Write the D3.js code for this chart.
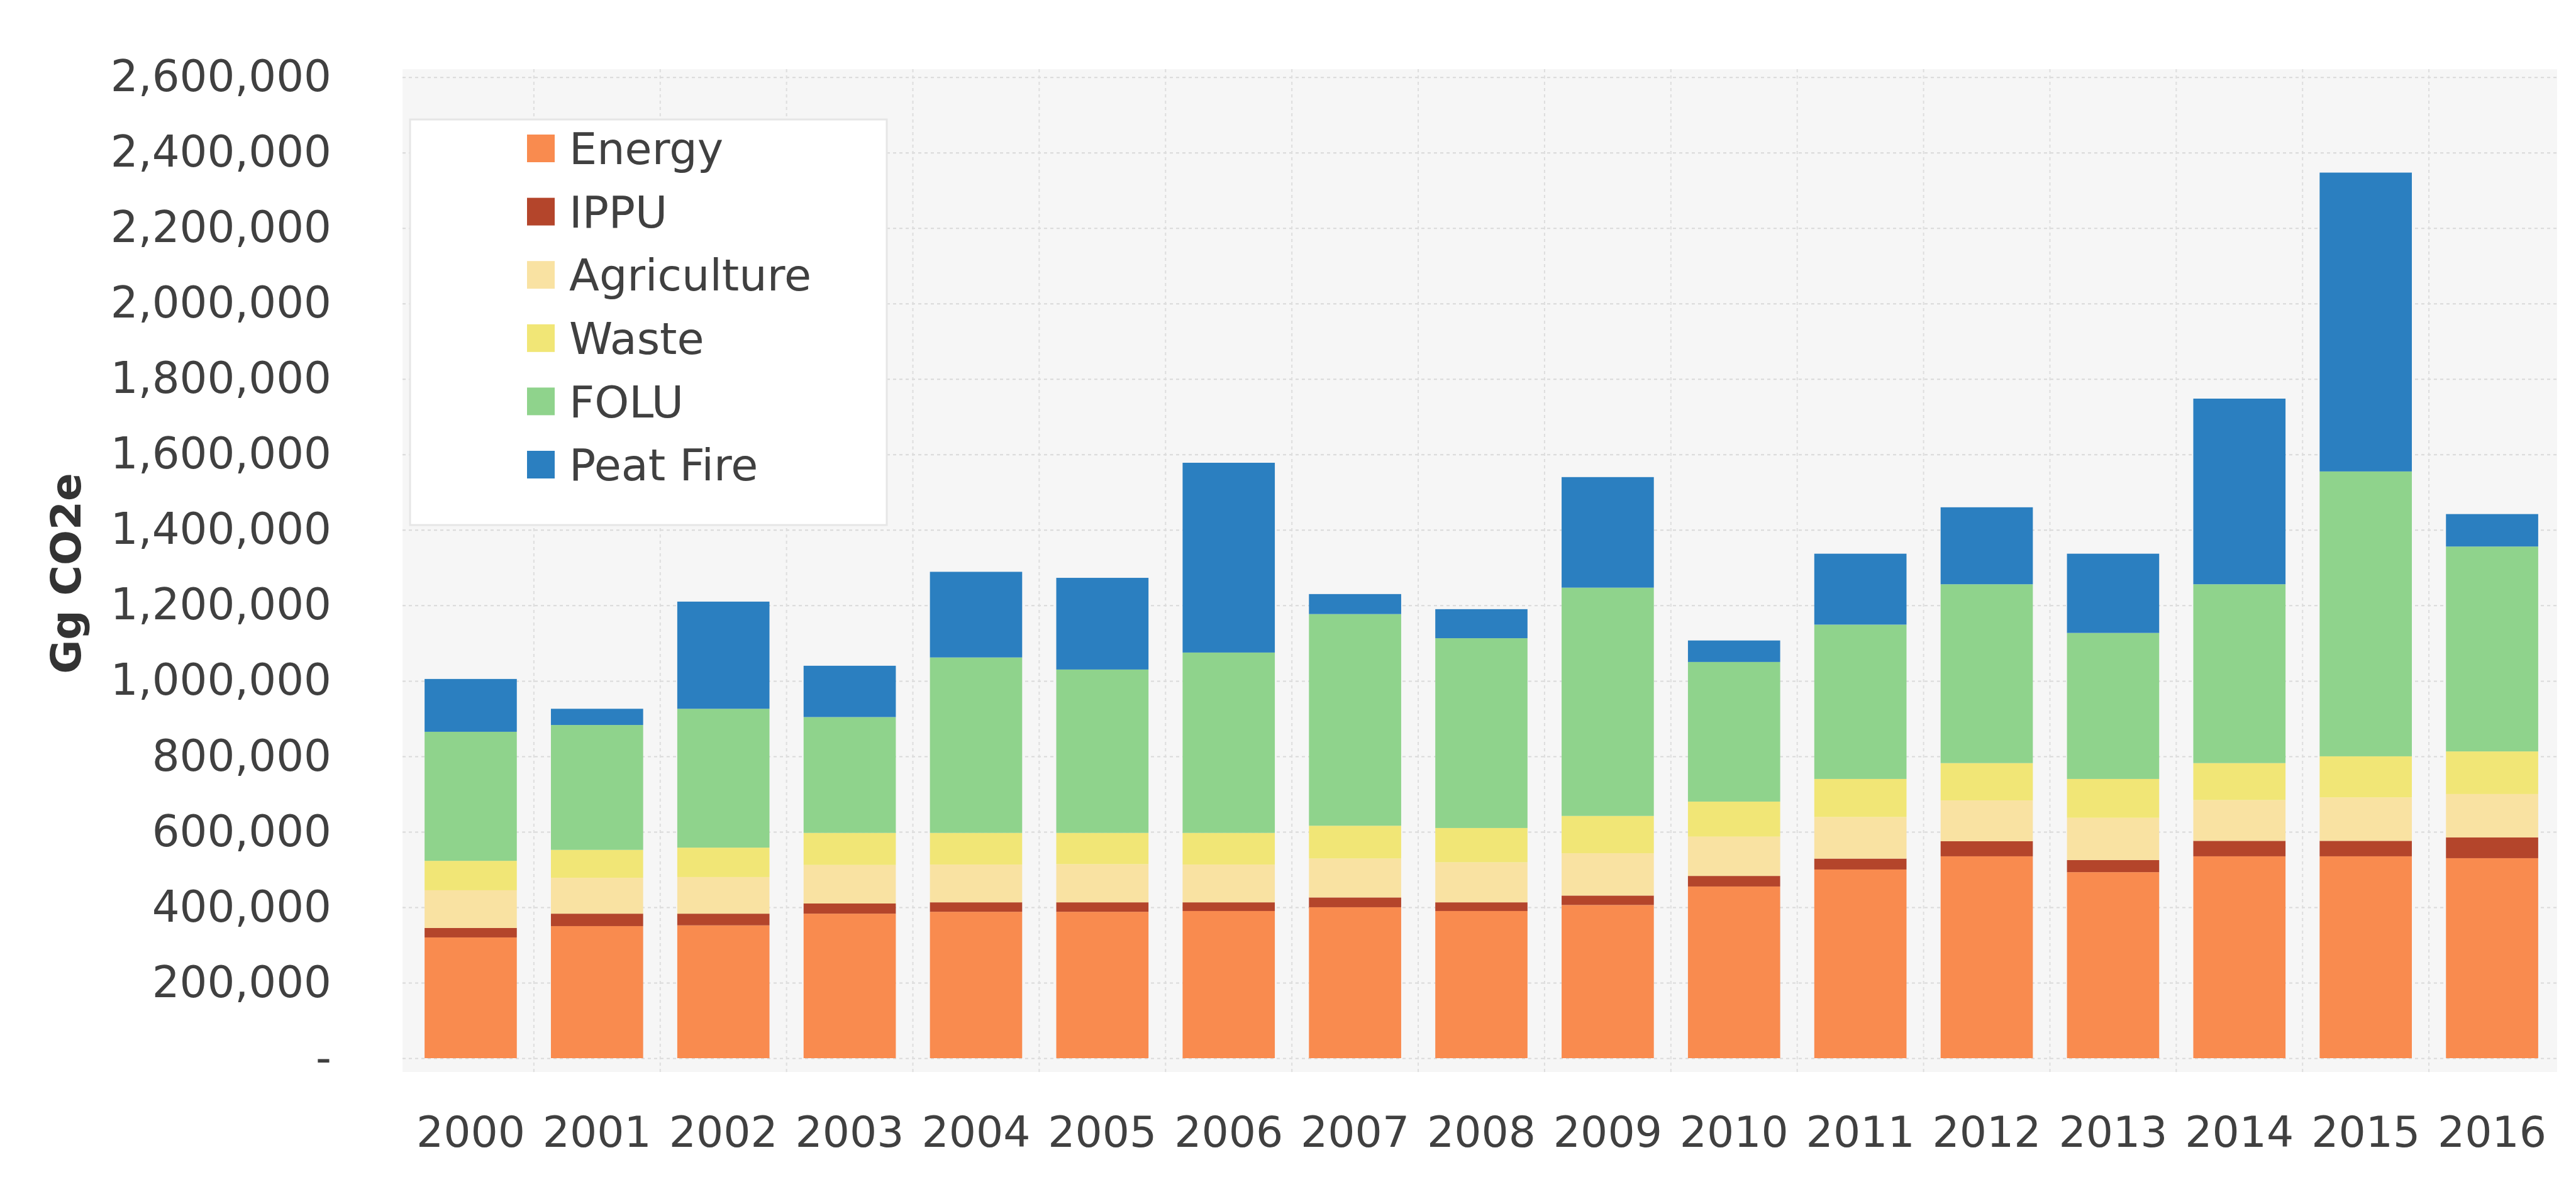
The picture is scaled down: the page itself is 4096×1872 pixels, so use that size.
<!DOCTYPE html>
<html>
<head>
<meta charset="utf-8">
<script src="https://cdn.jsdelivr.net/npm/d3@7"></script>
<style>
  body { margin: 0; background: #fff; }
  svg { display: block; }
  text { font-family: "DejaVu Sans", sans-serif; }
</style>
</head>
<body>
<svg id="chart"></svg>
<script>
// values in thousand Gg CO2e
const years = ["2000", "2001", "2002", "2003", "2004", "2005", "2006", "2007", "2008",
    "2009", "2010", "2011", "2012", "2013", "2014", "2015", "2016"];
const energy = [320, 350, 352, 383, 388, 388, 390, 400, 390, 406, 455, 500, 535, 493, 535, 535, 530];
const ippu = [25, 33, 31, 27, 25, 25, 23, 26, 23, 25, 28, 29, 40, 32, 41, 41, 55];
const agriculture = [100, 95, 97, 102, 100, 101, 100, 103, 106, 112, 104, 110, 108, 112, 108, 115, 115];
const waste = [78, 74, 78, 85, 84, 83, 84, 87, 91, 99, 93, 101, 99, 103, 98, 109, 113];
const folu = [342, 331, 368, 307, 465, 433, 478, 561, 503, 605, 370, 409, 474, 387, 474, 755, 543];
const peatFire = [140, 43, 284, 136, 227, 243, 503, 53, 77, 293, 57, 188, 204, 210, 492, 792, 86];

const seriesNames = ["Energy", "IPPU", "Agriculture", "Waste", "FOLU", "Peat Fire"];
const seriesColors = ["#f98b4f", "#b4452b", "#f9e2a2", "#f1e676", "#8fd38c", "#2b7fc0"];
const yTicks = [0, 200000, 400000, 600000, 800000, 1000000, 1200000, 1400000,
    1600000, 1800000, 2000000, 2200000, 2400000, 2600000];
const yTitle = "Gg CO2e";

const W = 4096, H = 1872;

const seriesValues = [energy, ippu, agriculture, waste, folu, peatFire];
const rows = years.map((yr, i) => {
    const r = { year: yr };
    seriesNames.forEach((s, k) => { r[s] = seriesValues[k][i] * 1000; });
    return r;
});

const svg = d3.select("#chart").attr("width", W).attr("height", H);

const x = d3.scaleBand()
    .domain(years)
    .range([648, 4063])
    .paddingInner(0.27)
    .paddingOuter(0.135);

const y = d3.scaleLinear()
    .domain([0, 2600000])
    .range([1683, 122.7]);

const color = d3.scaleOrdinal().domain(seriesNames).range(seriesColors);

// plot background
svg.append("rect")
    .attr("x", 640).attr("y", 110)
    .attr("width", 4066 - 640).attr("height", 1705 - 110)
    .attr("fill", "#f6f6f6");

// horizontal gridlines
svg.append("g")
    .attr("class", "ygrid")
    .attr("transform", "translate(640,0)")
    .call(d3.axisLeft(y).tickValues(yTicks).tickSize(-(4066 - 640)).tickFormat(""))
    .call(g => g.select(".domain").remove())
    .selectAll("line")
    .attr("stroke", "#d9d9d9")
    .attr("stroke-width", 2)
    .attr("stroke-dasharray", "5,5");

// vertical gridlines at category boundaries
const bounds = years.slice(1).map(yr => x(yr) - x.step() * x.paddingInner() / 2);
svg.append("g")
    .selectAll("line")
    .data(bounds)
    .enter().append("line")
    .attr("x1", d => d).attr("x2", d => d)
    .attr("y1", 110).attr("y2", 1705)
    .attr("stroke", "#dedede")
    .attr("stroke-width", 2)
    .attr("stroke-dasharray", "5,5");

// legend box (bars stay below it)
const legend = svg.append("g");
legend.append("rect")
    .attr("x", 652).attr("y", 190)
    .attr("width", 1410 - 652).attr("height", 835 - 190)
    .attr("fill", "#ffffff")
    .attr("stroke", "#e6e6e6")
    .attr("stroke-width", 3);

const item = legend.selectAll(".item")
    .data(seriesNames)
    .enter().append("g")
    .attr("class", "item")
    .attr("transform", (d, i) => `translate(0,${236 + i * 100.6})`);

item.append("rect")
    .attr("x", 838).attr("y", -22)
    .attr("width", 44).attr("height", 44)
    .attr("fill", d => color(d));

item.append("text")
    .attr("x", 905).attr("y", 0)
    .attr("dy", "0.36em")
    .attr("font-size", 70)
    .attr("fill", "#404040")
    .text(d => d);

// stacked bars
const stacked = d3.stack().keys(seriesNames)(rows);

svg.append("g")
    .selectAll("g")
    .data(stacked)
    .enter().append("g")
    .attr("fill", d => color(d.key))
    .selectAll("rect")
    .data(d => d)
    .enter().append("rect")
    .attr("x", d => x(d.data.year))
    .attr("y", d => y(d[1]))
    .attr("width", x.bandwidth())
    .attr("height", d => y(d[0]) - y(d[1]));

// y axis labels
svg.append("g")
    .attr("transform", "translate(560,0)")
    .call(d3.axisLeft(y)
        .tickValues(yTicks)
        .tickSize(0)
        .tickPadding(33)
        .tickFormat(d => d === 0 ? "-" : d3.format(",")(d)))
    .call(g => g.select(".domain").remove())
    .selectAll("text")
    .attr("font-family", "DejaVu Sans")
    .attr("font-size", 69)
    .attr("fill", "#404040");

// x axis labels
svg.append("g")
    .attr("transform", "translate(0,1683)")
    .call(d3.axisBottom(x).tickSize(0).tickPadding(93))
    .call(g => g.select(".domain").remove())
    .selectAll("text")
    .attr("font-family", "DejaVu Sans")
    .attr("font-size", 68)
    .attr("fill", "#404040");

// y title
svg.append("text")
    .attr("transform", "translate(105,912) rotate(-90)")
    .attr("text-anchor", "middle")
    .attr("dy", "0.35em")
    .attr("font-size", 66)
    .attr("font-weight", "bold")
    .attr("fill", "#333333")
    .text(yTitle);
</script>
</body>
</html>
